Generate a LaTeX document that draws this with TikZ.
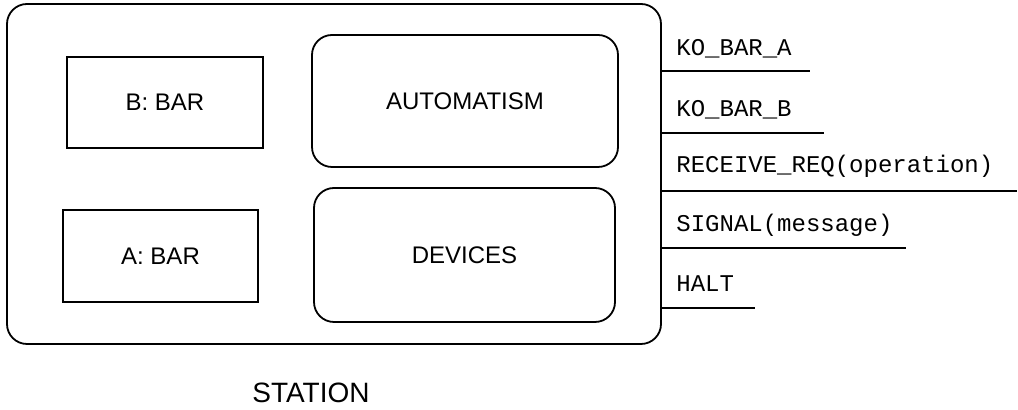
\documentclass[tikz,border=0pt]{standalone}
\usepackage{fontspec}
\setmainfont{Liberation Sans}
\setmonofont{Liberation Mono}
\usetikzlibrary{positioning}

\begin{document}
\begin{tikzpicture}[x=0.5pt, y=-0.5pt,
		box/.style={draw, line width=0.9pt, rectangle, font=\fontsize{12}{14}\selectfont},
		rbox/.style={box, rounded corners=10pt},
		sig/.style={font=\ttfamily\fontsize{12}{14}\selectfont, inner sep=0pt, anchor=base west},
		wire/.style={line width=1pt}
	]

	\useasboundingbox (0,0) rectangle (1018,410);

	% Draw the station and its parts
	\node[rbox, minimum width=327pt, minimum height=170pt] (station) at (334,174) {};
	\node[box, minimum width=98pt, minimum height=45.5pt] (barb) at (165,102.5) {B: BAR};
	\node[box, minimum width=97.5pt, minimum height=46pt] (bara) at (160.5,256) {A: BAR};
	\node[rbox, minimum width=153pt, minimum height=66pt] (automatism) at (465,101) {AUTOMATISM};
	\node[rbox, minimum width=150.5pt, minimum height=67pt] (devices) at (464.5,255) {DEVICES};
	\node[font=\fontsize{14}{16}\selectfont] (title) at (311,393) {STATION};

	% Draw the signals
	\node[sig] (koa) at (676,56) {KO\_BAR\_A};
	\node[sig] (kob) at (676,117) {KO\_BAR\_B};
	\node[sig] (recv) at (676,173) {RECEIVE\_REQ(operation)};
	\node[sig] (signal) at (676,232) {SIGNAL(message)};
	\node[sig] (halt) at (676,292) {HALT};

	\coordinate (koaend) at (810,71);
	\coordinate (kobend) at (824,133);
	\coordinate (recvend) at (1017,191);
	\coordinate (signalend) at (906,248);
	\coordinate (haltend) at (755,308);

	\draw[wire] (station.east |- koaend) -- (koaend);
	\draw[wire] (station.east |- kobend) -- (kobend);
	\draw[wire] (station.east |- recvend) -- (recvend);
	\draw[wire] (station.east |- signalend) -- (signalend);
	\draw[wire] (station.east |- haltend) -- (haltend);

\end{tikzpicture}
\end{document}
